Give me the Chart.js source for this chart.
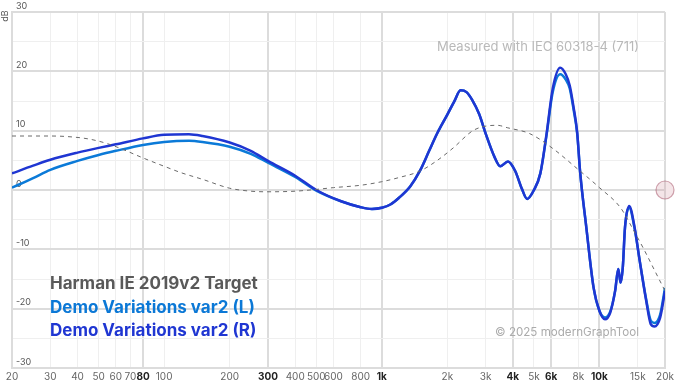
<!DOCTYPE html>
<html>
<head>
<meta charset="utf-8">
<script src="https://cdn.jsdelivr.net/npm/chart.js@4/dist/chart.umd.min.js"></script>
<style>
html,body{margin:0;padding:0;background:#fff;}
#wrap{width:678px;height:384px;}
</style>
</head>
<body>
<div id="wrap"><canvas id="c" width="678" height="384"></canvas></div>
<script>
// ---- data ----
const freqs = [20,25,30,40,50,60,80,100,130,150,200,250,300,400,500,650,800,900,1000,1100,1200,1350,1500,1650,1800,2000,2150,2300,2450,2600,2800,3000,3300,3500,3800,4100,4400,4650,5000,5350,5700,6100,6600,7000,7300,7600,7900,8150,8700,9400,10000,10600,11200,11800,12200,12500,12800,13100,13700,14500,15300,16400,17200,17900,19000,20000];
const rightDb = [2.8,4.1,5.1,6.3,7.1,7.7,8.7,9.3,9.4,9.1,8.0,6.6,4.9,2.4,0.0,-1.9,-2.9,-3.2,-3.0,-2.4,-1.3,0.6,3.3,6.6,9.6,12.7,14.9,16.8,16.5,15.2,12.8,9.5,5.5,4.0,4.8,3.2,0.2,-1.5,0.0,2.8,9.2,17.1,20.6,19.5,17.6,14.0,9.7,3.0,-6.3,-16.5,-20.4,-21.8,-20.7,-17.0,-13.3,-15.6,-13.0,-6.3,-2.7,-6.3,-11.9,-18.7,-22.6,-23.0,-21.5,-17.0];
const leftDb = [0.4,2.0,3.4,4.9,5.9,6.6,7.6,8.1,8.3,8.1,7.3,6.1,4.6,2.2,-0.1,-1.9,-2.9,-3.2,-3.0,-2.4,-1.3,0.6,3.3,6.6,9.6,12.7,14.9,16.8,16.5,15.2,12.8,9.5,5.5,4.0,4.8,3.2,0.2,-1.5,0.0,2.8,9.0,16.5,19.5,18.6,17.1,13.6,9.5,3.0,-6.3,-16.5,-20.4,-21.5,-20.5,-17.0,-13.3,-15.6,-13.0,-6.3,-3.0,-6.5,-11.9,-18.5,-22.0,-22.4,-21.0,-16.5];
const targetFreqs = [20,25,30,36,45,55,65,80,100,120,150,200,250,300,400,500,600,800,1000,1200,1500,1800,2130,2620,3040,3400,3770,4780,6050,7900,10000,12500,14200,16000,18000,20000];
const targetDb = [9.1,9.1,9.1,9.0,8.6,7.8,6.8,5.4,4.0,2.9,1.8,0.3,-0.2,-0.3,-0.2,0.1,0.4,0.8,1.4,2.1,3.2,5.0,7.1,10.0,10.8,10.9,10.5,9.5,7.1,3.6,0.4,-3.0,-6.5,-10.0,-13.7,-17.0];
const xTickValues = [20,30,40,50,60,70,80,100,200,300,400,500,600,800,1000,2000,3000,4000,5000,6000,8000,10000,15000,20000];
const xTickLabels = ['20','30','40','50','60','70','80','100','200','300','400','500','600','800','1k','2k','3k','4k','5k','6k','8k','10k','15k','20k'];
const boldTicks = [80,300,1000,4000,6000,10000];
const majorX = [20,80,300,1000,4000,6000,10000,20000];
const legendNames = ['Harman IE 2019v2 Target','Demo Variations var2 (L)','Demo Variations var2 (R)'];

const toXY = (fs, vs) => fs.map((f,i)=>({x:f,y:vs[i]}));
Chart.defaults.font.family = 'Inter, "Noto Sans", sans-serif';

const overlay = {
  id:'overlay',
  afterDraw(chart){
    const {ctx, chartArea:a, scales} = chart;
    ctx.save();
    // dB label
    ctx.save();
    ctx.translate(5.5, 16);
    ctx.rotate(-Math.PI/2);
    ctx.font = '9px Inter, sans-serif';
    ctx.fillStyle = '#555';
    ctx.textAlign = 'center';
    ctx.textBaseline = 'middle';
    ctx.fillText('dB', 0, 0);
    ctx.restore();
    // legend
    ctx.font = 'bold 17px Inter, sans-serif';
    ctx.textAlign = 'left';
    ctx.textBaseline = 'middle';
    const cols = ['#595959','#0b78d6','#1f36d2'];
    legendNames.forEach((n,i)=>{ ctx.fillStyle = cols[i]; ctx.fillText(n, 50, 284 + i*23.6); });
    // notes
    ctx.font = '13px Inter, sans-serif';
    ctx.textAlign = 'right';
    ctx.fillStyle = '#b9b9b9';
    ctx.fillText('Measured with IEC 60318-4 (711)', 639, 47);
    ctx.font = '11.6px Inter, sans-serif';
    ctx.fillStyle = '#ababab';
    ctx.fillText('\u00A9 2025 modernGraphTool', 639, 333);
    // normalization marker
    const y0 = scales.y.getPixelForValue(0);
    ctx.beginPath();
    ctx.arc(a.right, y0, 9, 0, Math.PI*2);
    ctx.fillStyle = 'rgba(210,150,165,0.25)';
    ctx.fill();
    ctx.strokeStyle = 'rgba(170,90,110,0.55)';
    ctx.lineWidth = 1.2;
    ctx.stroke();
    ctx.restore();
  }
};

new Chart(document.getElementById('c'), {
  type:'line',
  data:{
    datasets:[
      {label:legendNames[0], data:toXY(targetFreqs,targetDb), borderColor:'#6a6a6a', borderWidth:1, borderDash:[4,4], pointRadius:0, cubicInterpolationMode:'monotone', order:0},
      {label:legendNames[2], data:toXY(freqs,rightDb), borderColor:'#1f36d2', borderWidth:2.5, pointRadius:0, cubicInterpolationMode:'monotone', order:1},
      {label:legendNames[1], data:toXY(freqs,leftDb), borderColor:'#0b7ad8', borderWidth:2.5, pointRadius:0, cubicInterpolationMode:'monotone', order:2}
    ]
  },
  options:{
    responsive:false,
    animation:false,
    events:[],
    layout:{padding:{top:12,right:13,left:0,bottom:0}},
    plugins:{legend:{display:false},tooltip:{enabled:false}},
    scales:{
      x:{
        type:'logarithmic', min:20, max:20000,
        afterBuildTicks(s){ s.ticks = xTickValues.map(v=>({value:v})); },
        afterFit(s){ s.height = 16; },
        ticks:{
          autoSkip:false, maxRotation:0, minRotation:0, padding:3,
          callback:(v)=>{ const i = xTickValues.indexOf(v); return i>=0 ? xTickLabels[i] : ''; },
          font:(c)=>({size:10, weight: (c.tick && boldTicks.includes(c.tick.value)) ? 'bold' : 'normal'}),
          color:(c)=> (c.tick && boldTicks.includes(c.tick.value)) ? '#222' : '#666'
        },
        grid:{
          drawTicks:false,
          color:(c)=> (c.tick && majorX.includes(c.tick.value)) ? '#dcdcdc' : '#efefef',
          lineWidth:(c)=> (c.tick && majorX.includes(c.tick.value)) ? 2 : 1
        },
        border:{display:true,color:'#dcdcdc',width:2}
      },
      y:{
        min:-30, max:30,
        afterFit(s){ s.width = 12; },
        ticks:{
          stepSize:5, mirror:true, padding:4, labelOffset:-6,
          callback:(v)=> (v%10===0) ? String(v) : '',
          font:{size:9}, color:'#555'
        },
        grid:{
          drawTicks:false,
          color:(c)=> (c.tick && c.tick.value%10===0) ? '#dcdcdc' : '#efefef',
          lineWidth:(c)=> (c.tick && c.tick.value%10===0) ? 2 : 1
        },
        border:{display:true,color:'#dcdcdc',width:2}
      }
    }
  },
  plugins:[overlay]
});
</script>
</body>
</html>
